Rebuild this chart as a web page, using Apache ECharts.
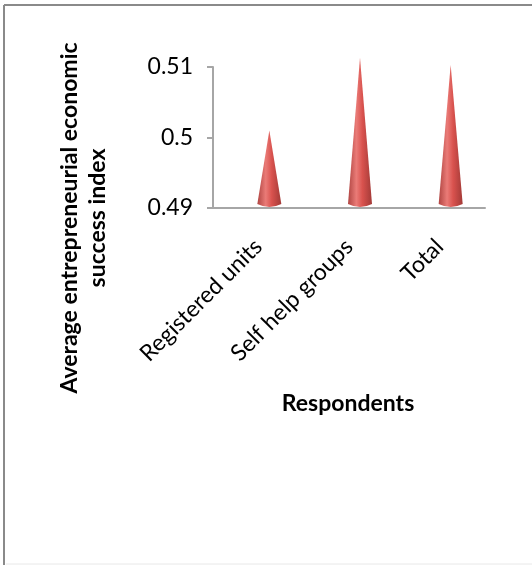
<!DOCTYPE html>
<html>
<head>
<meta charset="utf-8">
<script src="https://cdn.jsdelivr.net/npm/echarts@6/dist/echarts.min.js"></script>
<style>
html,body{margin:0;padding:0;background:#fff;}
#chart{width:532px;height:565px;}
</style>
</head>
<body>
<div id="chart"></div>
<script>
const categories = ['Registered units', 'Self help groups', 'Total'];
const successIndex = [0.501, 0.5113, 0.5103];
const yTicks = { min: 0.49, max: 0.51, interval: 0.01 };
const yTitle = 'Average entrepreneurial economic\nsuccess index';
const xTitle = 'Respondents';

const FONT = 'Lato, "Liberation Sans", sans-serif';
const chart = echarts.init(document.getElementById('chart'), null, {renderer: 'canvas'});

function coneFill() {
  return new echarts.graphic.LinearGradient(0, 0, 1, 0, [
    {offset: 0, color: '#b04542'},
    {offset: 0.35, color: '#ea7b77'},
    {offset: 0.6, color: '#d9524e'},
    {offset: 1, color: '#a33a37'}
  ]);
}

chart.setOption({
  animation: false,
  backgroundColor: '#ffffff',
  grid: {left: 213, right: 47, top: 67, bottom: 357, containLabel: false},
  xAxis: {
    type: 'category',
    data: categories,
    axisLine: {lineStyle: {color: '#a6a6a6', width: 2}},
    axisTick: {show: false},
    axisLabel: {rotate: 45, margin: 35, fontSize: 23, color: '#000', fontFamily: FONT, interval: 0}
  },
  yAxis: {
    type: 'value',
    min: yTicks.min, max: yTicks.max, interval: yTicks.interval,
    axisLine: {show: true, lineStyle: {color: '#a6a6a6', width: 2}},
    axisTick: {show: true, length: 6, lineStyle: {color: '#a6a6a6', width: 2}},
    axisLabel: {margin: 20, fontSize: 23, color: '#000', fontFamily: FONT},
    splitLine: {show: false}
  },
  series: [{
    type: 'custom',
    data: successIndex.map((v, i) => [i, v]),
    encode: {x: 0, y: 1},
    z: 5,
    renderItem: function (params, api) {
      const i = api.value(0);
      const top = api.coord([i, api.value(1)]);
      const base = api.coord([i, yTicks.min]);
      const cx = top[0] + 11;
      const by = base[1] - 4;
      const hw = 12;
      return {
        type: 'path',
        shape: {
          pathData: 'M' + cx + ',' + top[1] +
            ' L' + (cx + hw) + ',' + by +
            ' Q' + cx + ',' + (by + 6) + ' ' + (cx - hw) + ',' + by + ' Z'
        },
        style: {fill: coneFill()}
      };
    }
  }],
  graphic: [
    {type: 'line', shape: {x1: 4, y1: 5, x2: 532, y2: 5}, style: {stroke: '#8a8a8a', lineWidth: 2}},
    {type: 'line', shape: {x1: 4, y1: 5, x2: 4, y2: 565}, style: {stroke: '#8a8a8a', lineWidth: 2}},
    {type: 'line', shape: {x1: 6, y1: 564, x2: 532, y2: 564}, style: {stroke: '#e8e8e8', lineWidth: 1}},
    {type: 'text', x: 84, y: 218, rotation: Math.PI / 2,
      style: {text: yTitle, fill: '#000', font: 'bold 23px ' + FONT, align: 'center', verticalAlign: 'middle', lineHeight: 28}},
    {type: 'text', x: 348, y: 404,
      style: {text: xTitle, fill: '#000', font: 'bold 23px ' + FONT, align: 'center', verticalAlign: 'middle'}}
  ]
});
</script>
</body>
</html>
